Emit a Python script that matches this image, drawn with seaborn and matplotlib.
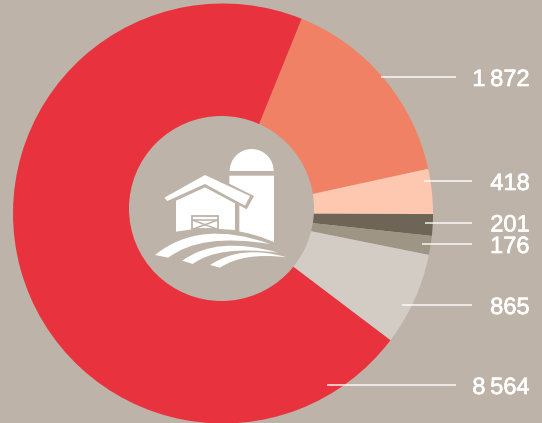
import matplotlib
matplotlib.use('Agg')
import matplotlib.pyplot as plt
import matplotlib.patheffects as pe
from matplotlib.patches import Circle, PathPatch, Polygon, Rectangle, Wedge
from matplotlib.path import Path
import seaborn as sns

values = [1872, 418, 201, 176, 865, 8564]
labels = ['1\u2009872', '418', '201', '176', '865', '8\u2009564']
colors = ['#F08165', '#FDC7B0', '#6F6557', '#9E9585', '#D3CCC5', '#E8333E']
BG = '#BDB3A8'
H = 423

# leader lines in picture pixels: y, x start, x end
leaders = [(77, 381, 456), (181, 424, 472), (222.5, 425, 472),
           (244, 422, 472), (305, 402, 472), (385, 327, 456)]

sns.set_theme(style='white')
plt.rcParams['font.family'] = ['Liberation Sans', 'DejaVu Sans']

fig = plt.figure(figsize=(5.42, 4.23), dpi=100, facecolor=BG)
ax = fig.add_axes([0, 0, 1, 1])
ax.set_facecolor(BG)

ax.pie(values, colors=sns.color_palette(colors), startangle=68, counterclock=False,
       center=(223, H - 213.5), radius=210,
       wedgeprops={'linewidth': 0}, frame=True)
ax.set_xlim(0, 542)
ax.set_ylim(0, H)
ax.set_aspect('equal')
ax.axis('off')

# the hole sits a little above the centre of the ring
ax.add_patch(Circle((221.5, H - 208.5), 92.5, fc=BG, ec='none', zorder=3))

for (y, x0, x1), label in zip(leaders, labels):
    ax.plot([x0, x1], [H - y, H - y], color='white', lw=1.1, solid_capstyle='butt', zorder=4, alpha=0.9)
    ax.text(529.7, H - y - 0.5, label, color='white', fontsize=17, ha='right', va='center_baseline', zorder=5,
            path_effects=[pe.withStroke(linewidth=0.5, foreground='white')])


# icon, drawn in the coordinates of a 3x crop of the centre
def z(x, y):
    return (120 + x / 3, H - (110 + y / 3))


def poly(points, color='white', zorder=6):
    ax.add_patch(Polygon([z(*p) for p in points], closed=True, fc=color, ec='none', zorder=zorder))


def strip(a, b, c, d, e, zorder=9):
    # field strip: upper curve a-c over b, back along lower curve c-e over d
    verts = [z(*a), z(*b), z(*c), z(*d), z(*e), z(*a)]
    codes = [Path.MOVETO, Path.CURVE3, Path.CURVE3, Path.CURVE3, Path.CURVE3, Path.CLOSEPOLY]
    ax.add_patch(PathPatch(Path(verts, codes), fc='white', ec='none', zorder=zorder))


# silo
ax.add_patch(Wedge(z(395, 183), 22, 0, 180, fc='white', ec='none', zorder=6))
poly([(328, 197), (462, 197), (462, 396), (420, 380), (385, 370), (345, 362), (328, 360)])

# gap around the barn, then body and roof
poly([(125, 268), (255, 185), (402, 258), (380, 298), (358, 286), (358, 368), (160, 372)], color=BG, zorder=7)
poly([(168, 272), (255, 232), (345, 280), (345, 360), (300, 357), (255, 356), (210, 359), (168, 365)], zorder=8)
poly([(133, 263), (255, 195), (390, 258), (375, 287), (255, 222), (142, 273)], zorder=8)

# door
ax.add_patch(Rectangle(z(217, 358), 25.5, 13.5, fc='white', ec=BG, lw=1.3, zorder=9))
for p, q in [((217, 330), (293, 358)), ((293, 330), (217, 358))]:
    ax.plot(*zip(z(*p), z(*q)), color=BG, lw=1.1, zorder=9)
ax.plot(*zip(z(217, 330), z(293, 330)), color=BG, lw=1.1, zorder=9)

# fields
strip((105, 435), (240, 326), (450, 402), (242, 368), (145, 443))
strip((187, 452), (289, 376), (475, 428), (294, 405), (218, 462))
strip((270, 465), (365, 402), (500, 442), (370, 426), (300, 473))

fig.savefig('out.png', dpi=100, facecolor=BG)
